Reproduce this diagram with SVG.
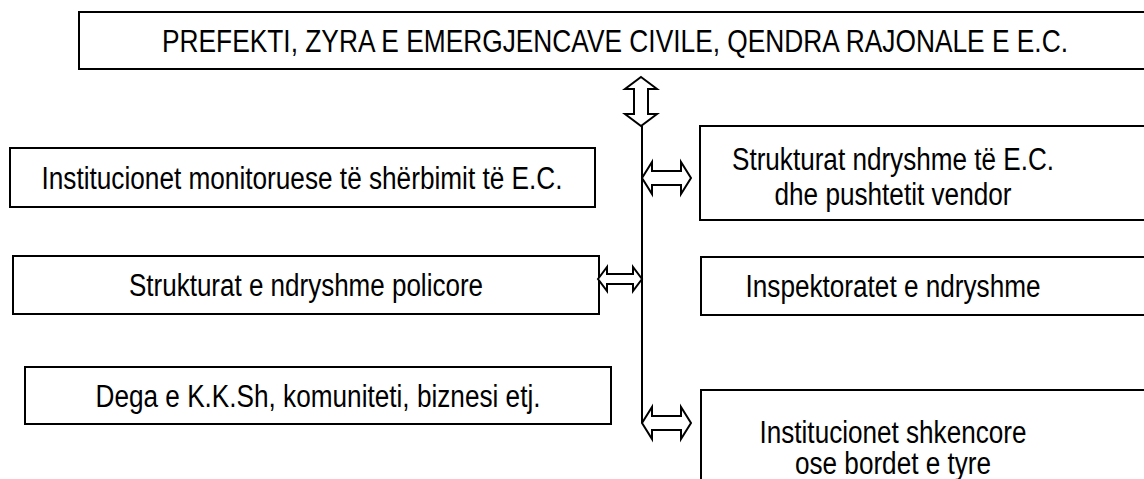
<svg xmlns="http://www.w3.org/2000/svg" width="1144" height="479" viewBox="0 0 1144 479">
<style>
.box{fill:#fff;stroke:#000;stroke-width:2}
.arr{fill:#fff;stroke:#000;stroke-width:2;stroke-linejoin:miter}
.ln{stroke:#000;stroke-width:2;fill:none}
text{font-family:"Liberation Sans Narrow","Arial Narrow","Liberation Sans",Arial,sans-serif;font-size:31px;fill:#000;text-anchor:middle}
</style>
<rect width="1144" height="479" fill="#fff"/>
<g id="top">
<rect class="box" x="79" y="12" width="1080" height="57"/>
<text x="615" y="52" textLength="906" lengthAdjust="spacingAndGlyphs">PREFEKTI, ZYRA E EMERGJENCAVE CIVILE, QENDRA RAJONALE E E.C.</text>
</g>
<g id="left1">
<rect class="box" x="10" y="148" width="585" height="59"/>
<text x="302" y="189" textLength="521" lengthAdjust="spacingAndGlyphs">Institucionet monitoruese të shërbimit të E.C.</text>
</g>
<g id="left2">
<rect class="box" x="13" y="256" width="586" height="58"/>
<text x="306" y="296" textLength="354" lengthAdjust="spacingAndGlyphs">Strukturat e ndryshme policore</text>
</g>
<g id="left3">
<rect class="box" x="25" y="367" width="586" height="57"/>
<text x="318" y="407" textLength="445" lengthAdjust="spacingAndGlyphs">Dega e K.K.Sh, komuniteti, biznesi etj.</text>
</g>
<g id="right1">
<rect class="box" x="700" y="126" width="470" height="94"/>
<text x="893" y="170" textLength="322" lengthAdjust="spacingAndGlyphs">Strukturat ndryshme të E.C.</text>
<text x="893" y="205" textLength="237" lengthAdjust="spacingAndGlyphs">dhe pushtetit vendor</text>
</g>
<g id="right2">
<rect class="box" x="701" y="257" width="470" height="58"/>
<text x="893" y="297" textLength="295" lengthAdjust="spacingAndGlyphs">Inspektoratet e ndryshme</text>
</g>
<g id="right3">
<rect class="box" x="701" y="390" width="470" height="120"/>
<text x="893" y="443" textLength="267" lengthAdjust="spacingAndGlyphs">Institucionet shkencore</text>
<text x="893" y="474" textLength="196" lengthAdjust="spacingAndGlyphs">ose bordet e tyre</text>
</g>
<g id="connectors">
<line class="ln" x1="642" y1="126" x2="642" y2="423"/>
<polygon class="arr" points="641,77 657,89 648,89 648,114 657,114 641,126 625,114 634,114 634,89 625,89"/>
<polygon class="arr" points="642,178 652,162 652,171 681,171 681,162 691,178 681,194 681,185 652,185 652,194"/>
<polygon class="arr" points="598,279 607,267 607,274 633,274 633,267 642,279 633,291 633,284 607,284 607,291"/>
<polygon class="arr" points="642,423 652,407 652,416 681,416 681,407 691,423 681,439 681,430 652,430 652,439"/>
</g>
</svg>
